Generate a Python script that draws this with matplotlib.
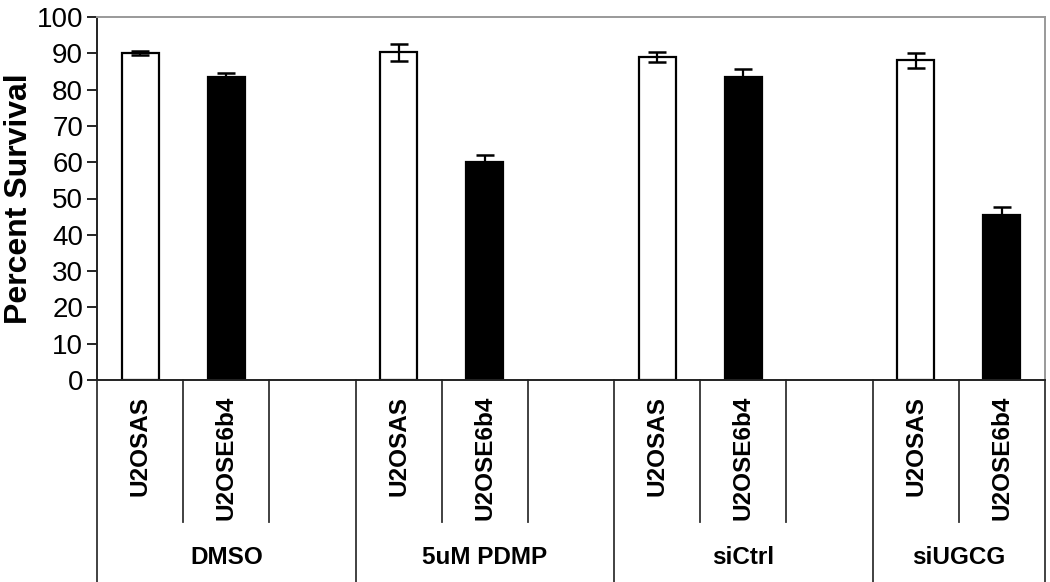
import matplotlib.pyplot as plt

plt.rcParams["font.family"] = ["Liberation Sans", "DejaVu Sans"]

groups = ["DMSO", "5uM PDMP", "siCtrl", "siUGCG"]
cell_lines = ["U2OSAS", "U2OSE6b4"]
as_values = [90.0, 90.3, 88.9, 88.1]
as_errors = [0.5, 2.3, 1.4, 2.1]
e6b4_values = [83.4, 60.0, 83.4, 45.5]
e6b4_errors = [1.3, 1.9, 2.4, 2.1]
y_ticks = list(range(0, 101, 10))

SLOTS_PER_GROUP = 3
n_slots = SLOTS_PER_GROUP * (len(groups) - 1) + len(cell_lines)

fig = plt.figure(figsize=(10.5, 5.82), dpi=100)
ax = fig.add_axes([97 / 1050, 1 - 380 / 582, 948 / 1050, 363 / 582])

bar_w = 0.43
as_x = [SLOTS_PER_GROUP * g + 0.5 for g in range(len(groups))]
e6_x = [SLOTS_PER_GROUP * g + 1.5 for g in range(len(groups))]

ax.bar(as_x, as_values, width=bar_w, color="white", edgecolor="black", linewidth=1.6, zorder=2)
ax.bar(e6_x, e6b4_values, width=bar_w, color="black", edgecolor="black", linewidth=1.6, zorder=2)
ax.errorbar(as_x, as_values, yerr=as_errors, fmt="none", ecolor="black",
            elinewidth=1.6, capsize=6.5, capthick=1.8, zorder=3)
ax.errorbar(e6_x, e6b4_values, yerr=e6b4_errors, fmt="none", ecolor="black",
            elinewidth=1.6, capsize=6.5, capthick=1.8, zorder=3)

ax.set_xlim(0, n_slots)
ax.set_ylim(0, 100)
ax.set_yticks(y_ticks)
ax.tick_params(axis="y", direction="out", length=7, width=1.2, labelsize=20, pad=3)
ax.set_xticks([])
ax.set_ylabel("Percent Survival", fontsize=23, fontweight="bold", labelpad=2)

for side in ["left", "bottom"]:
    ax.spines[side].set_linewidth(1.4)
    ax.spines[side].set_color("#222222")
for side in ["top", "right"]:
    ax.spines[side].set_linewidth(1.4)
    ax.spines[side].set_color("#999999")

# multi-level category axis below the plot
trans = ax.get_xaxis_transform()
short_bottom = -142 / 363
full_bottom = -205 / 363
for g, name in enumerate(groups):
    start = SLOTS_PER_GROUP * g
    n_here = SLOTS_PER_GROUP if g < len(groups) - 1 else len(cell_lines)
    ax.plot([start, start], [0, full_bottom], transform=trans, color="#333333",
            lw=1.3, clip_on=False)
    for s in range(1, n_here):
        ax.plot([start + s, start + s], [0, short_bottom], transform=trans,
                color="#333333", lw=1.3, clip_on=False)
    for s, lab in enumerate(cell_lines):
        ax.text(start + s + 0.5, -16 / 363, lab, transform=trans, rotation=90,
                ha="center", va="top", fontsize=17.5, fontweight="bold")
    ax.text(start + n_here / 2, -178 / 363, name, transform=trans,
            ha="center", va="center", fontsize=17.5, fontweight="bold")
ax.plot([n_slots, n_slots], [0, full_bottom], transform=trans, color="#333333",
        lw=1.3, clip_on=False)

fig.savefig("out.png", dpi=100)
